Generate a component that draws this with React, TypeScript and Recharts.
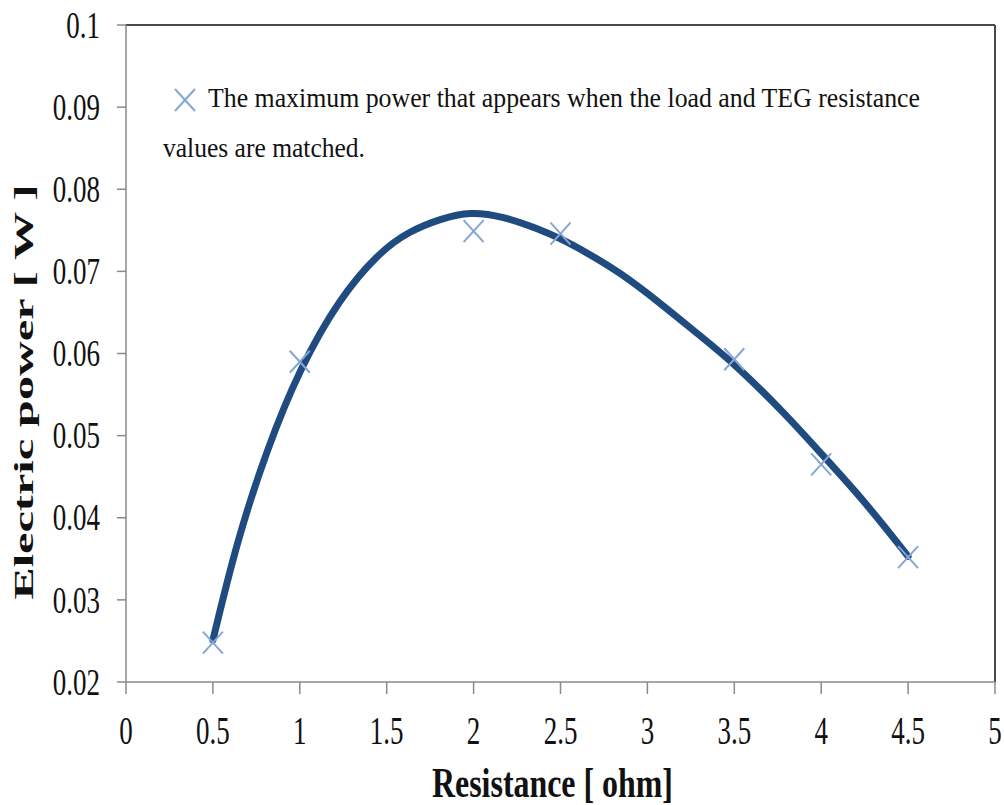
import { ComposedChart, Line, Scatter, XAxis, YAxis, ReferenceLine, Legend } from "recharts";

// measured points (Resistance [ohm] -> Electric power [W])
const resistance = [0.5, 1, 2, 2.5, 3.5, 4, 4.5];
const measuredPower = [0.0248, 0.059, 0.0749, 0.0746, 0.0593, 0.0465, 0.0352];

// trend curve
const trendResistance = [0.5, 0.64, 0.81, 1.0, 1.23, 1.46, 1.63, 1.81, 1.98, 2.17, 2.37, 2.5, 2.65, 2.84, 3.07, 3.3, 3.5, 3.8, 4.0, 4.25, 4.5];
const trendPower = [0.0251, 0.0373, 0.0483, 0.0582, 0.0668, 0.0724, 0.0749, 0.0764, 0.0773, 0.0767, 0.0752, 0.074, 0.0723, 0.0699, 0.0662, 0.0622, 0.0588, 0.0525, 0.0478, 0.042, 0.0353];

const xTicks = [0, 0.5, 1, 1.5, 2, 2.5, 3, 3.5, 4, 4.5, 5];
const yTicks = [0.02, 0.03, 0.04, 0.05, 0.06, 0.07, 0.08, 0.09, 0.1];

const noteLine1 = "The maximum power that appears when the load and TEG resistance";
const noteLine2 = "values are matched.";

const serif = "'Liberation Serif', 'Times New Roman', serif";
const markerColor = "#85a6d4";
const lineColor = "#1f4b80";
const axisColor = "#8a8a8a";

const measured = resistance.map((x, i) => ({ x, y: measuredPower[i] }));
const trend = trendResistance.map((x, i) => ({ x, y: trendPower[i] }));

function XMark({ cx, cy }: any) {
  if (cx == null || cy == null) return null;
  return (
    <g stroke={markerColor} strokeWidth={2} fill="none">
      <line x1={cx - 10} y1={cy - 11} x2={cx + 10} y2={cy + 11} />
      <line x1={cx - 10} y1={cy + 11} x2={cx + 10} y2={cy - 11} />
    </g>
  );
}

function XTick({ x, y, payload }: any) {
  return (
    <g transform={`translate(${x},${y}) scale(1,1.5)`}>
      <text x={0} y={0} textAnchor="middle" dominantBaseline="central" fontFamily={serif} fontSize={27} fill="#111">
        {payload.value}
      </text>
    </g>
  );
}

function YTick({ x, y, payload }: any) {
  return (
    <g transform={`translate(${x},${y}) scale(1,1.4)`}>
      <text x={0} y={0} textAnchor="end" dominantBaseline="central" fontFamily={serif} fontSize={27} fill="#111">
        {payload.value}
      </text>
    </g>
  );
}

function XTitle({ viewBox }: any) {
  const cx = viewBox.x + viewBox.width / 2 - 8;
  return (
    <text x={cx} y={viewBox.y + 115} textAnchor="middle" fontFamily={serif} fontWeight="bold" fontSize={43}
      textLength={241} lengthAdjust="spacingAndGlyphs" fill="#111">
      Resistance [ ohm]
    </text>
  );
}

function YTitle({ viewBox }: any) {
  const cy = viewBox.y + 367;
  return (
    <text transform={`translate(33,${cy}) rotate(-90)`} x={0} y={0} textAnchor="middle" fontFamily={serif}
      fontWeight="bold" fontSize={27} textLength={415} lengthAdjust="spacingAndGlyphs" fill="#111">
      Electric power  [ W ]
    </text>
  );
}

function Note() {
  return (
    <svg width={1004} height={175} style={{ display: "block" }}>
      <XMark cx={185} cy={100} />
      <text x={208} y={107} fontFamily={serif} fontSize={28} textLength={712} lengthAdjust="spacingAndGlyphs" fill="#111">
        {noteLine1}
      </text>
      <text x={163} y={157} fontFamily={serif} fontSize={28} textLength={202} lengthAdjust="spacingAndGlyphs" fill="#111">
        {noteLine2}
      </text>
    </svg>
  );
}

export default function App() {
  return (
    <div style={{ position: "absolute", left: 0, top: 0, background: "#fff" }}>
      <ComposedChart width={1004} height={805} margin={{ top: 25, right: 9, bottom: 0, left: 0 }}>
        <XAxis
          type="number"
          dataKey="x"
          domain={[0, 5]}
          ticks={xTicks}
          height={123}
          tickSize={12}
          tickMargin={36}
          tick={<XTick />}
          axisLine={{ stroke: axisColor, strokeWidth: 1.5 }}
          tickLine={{ stroke: axisColor, strokeWidth: 1.5 }}
          label={<XTitle />}
        />
        <YAxis
          type="number"
          domain={[0.02, 0.1]}
          ticks={yTicks}
          width={126}
          tickSize={9}
          tickMargin={17}
          tick={<YTick />}
          axisLine={{ stroke: axisColor, strokeWidth: 1.5 }}
          tickLine={{ stroke: axisColor, strokeWidth: 1.5 }}
          label={<YTitle />}
        />
        <ReferenceLine y={0.1} stroke="#4a4a4a" strokeWidth={2} />
        <ReferenceLine x={5} stroke="#4a4a4a" strokeWidth={2} />
        <Legend
          layout="vertical"
          align="center"
          verticalAlign="middle"
          wrapperStyle={{ left: 0, top: 0, width: 1004 }}
          content={() => <Note />}
        />
        <Line
          data={trend}
          dataKey="y"
          type="basis"
          stroke={lineColor}
          strokeWidth={7}
          strokeLinecap="round"
          dot={false}
          activeDot={false}
          legendType="none"
          isAnimationActive={false}
        />
        <Scatter
          data={measured}
          dataKey="y"
          name={noteLine1}
          fill={markerColor}
          shape={(p: any) => <XMark cx={p.cx} cy={p.cy} />}
          isAnimationActive={false}
        />
      </ComposedChart>
    </div>
  );
}
